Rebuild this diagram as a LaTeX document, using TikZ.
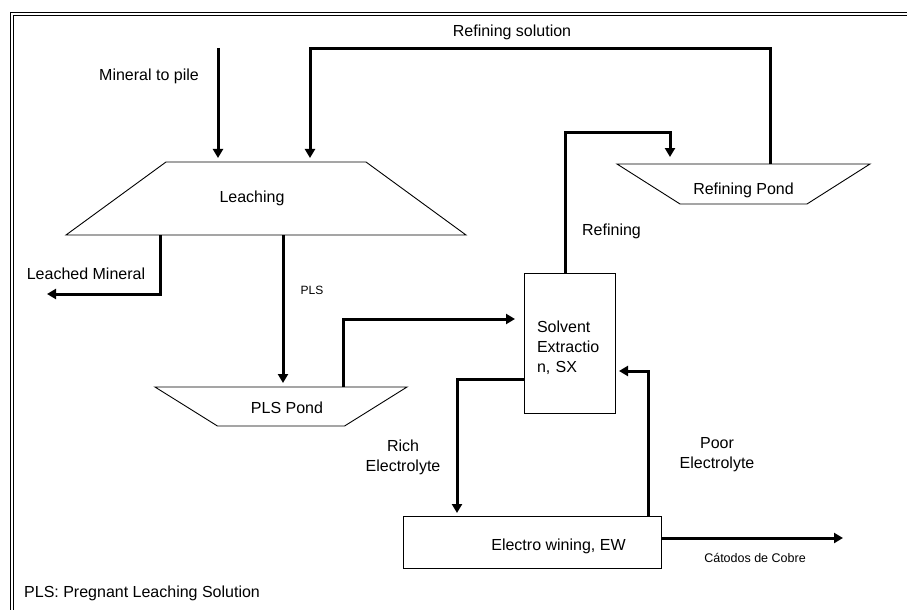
\documentclass[tikz,border=0pt]{standalone}
\usepackage{fontspec}
\setmainfont{Liberation Sans}
\usepackage{tikz}
\usetikzlibrary{arrows.meta,positioning,shapes.geometric}

\begin{document}
\begin{tikzpicture}[x=1pt,y=-1pt,
		font=\fontsize{16}{20}\selectfont,
		flow/.style={line width=3pt,-{Triangle[length=9pt,width=10pt]},shorten >=4pt},
		tank/.style={trapezium,draw,line width=0.9pt,inner xsep=0pt,outer sep=0pt,trapezium stretches body},
		unit/.style={rectangle,draw,line width=0.9pt,inner sep=0pt,outer sep=0pt},
		note/.style={font=\fontsize{12.5}{15}\selectfont}]
		
		\useasboundingbox (0,0) rectangle (907,610);
		% double frame
		\draw[line width=1.3pt] (10.3,610) -- (10.3,12.6) -- (907,12.6);
		\draw[line width=1.3pt] (13.4,610) -- (13.4,15.2) -- (907,15.2);
		
		% process units (height comes from inner ysep, so the slopes keep their angle)
		\node[tank,trapezium angle=36.13,minimum width=400pt,inner ysep=36.5pt,
			label={[xshift=-14pt]center:Leaching}] (leaching) at (266,198.5) {};
		\node[tank,shape border rotate=180,trapezium angle=32,minimum width=252pt,inner ysep=19.5pt,
			label={[xshift=6pt,yshift=-1.5pt]center:PLS Pond}] (pls-pond) at (281,406.5) {};
		\node[tank,shape border rotate=180,trapezium angle=32.4,minimum width=253pt,inner ysep=20pt,
			label={[yshift=-6pt]center:Refining Pond}] (ref-pond) at (743.5,184) {};
		\node[unit,minimum width=91pt,minimum height=140pt,
			label={[yshift=-5pt,text width=65pt,align=left]center:{Solvent\\Extractio\\n, SX}}] (sx) at (569.5,343) {};
		\node[unit,minimum width=258pt,minimum height=52pt,
			label={[xshift=26.5pt,yshift=-4pt]center:{Electro wining, EW}}] (ew) at (532,542) {};
		
		% stream names
		\node (pile-text) at (149,76) {Mineral to pile};
		\node (sol-text) at (512,32) {Refining solution};
		\node (raf-text) at (611.5,231) {Refining};
		\node (leached-text) at (86,274) {Leached Mineral};
		\node[note,font=\fontsize{12}{14}\selectfont] (pls-text) at (312,290) {PLS};
		\node[align=center] (rich-text) at (403,457) {Rich\\Electrolyte};
		\node[align=center] (poor-text) at (717,455) {Poor\\Electrolyte};
		\node[note] (cobre-text) at (755,558) {Cátodos de Cobre};
		\node[anchor=west,inner sep=0pt] (pls-note) at (24,593) {PLS: Pregnant Leaching Solution};
		
		% streams
		\coordinate (pile-top) at (218,48);
		\draw[flow] (pile-top) -- (pile-top |- leaching.north);
		
		\coordinate (sol-left) at (310,49);
		\coordinate (sol-right) at (770,49);
		\draw[flow] (sol-right |- ref-pond.north) -- (sol-right) -- (sol-left) -- (sol-left |- leaching.north);
		
		\coordinate (raf-left) at (565,132);
		\coordinate (raf-right) at (670,132);
		\draw[flow,shorten >=7pt] (raf-left |- sx.north) -- (raf-left) -- (raf-right) -- (raf-right |- ref-pond.north);
		
		\coordinate (tail-bend) at (160,294);
		\coordinate (tail-end) at (47,294);
		\draw[flow,shorten >=0pt] (tail-bend |- leaching.south) -- (tail-bend) -- (tail-end);
		
		\draw[flow] ([xshift=17pt]leaching.south) -- ([xshift=17pt]leaching.south |- pls-pond.north);
		\draw[flow,shorten >=9pt] ([xshift=62pt]pls-pond.north) |- ([yshift=24pt]sx.west);
		\draw[flow,shorten >=3pt] ([yshift=-36pt]sx.west) -| ([xshift=-75pt]ew.north);
		\draw[flow] ([xshift=116pt]ew.north) |- ([yshift=-28pt]sx.east);
		
		\coordinate (cobre-end) at (843,538);
		\draw[flow,shorten >=0pt] ([yshift=4pt]ew.east) -- (cobre-end);
\end{tikzpicture}
\end{document}
